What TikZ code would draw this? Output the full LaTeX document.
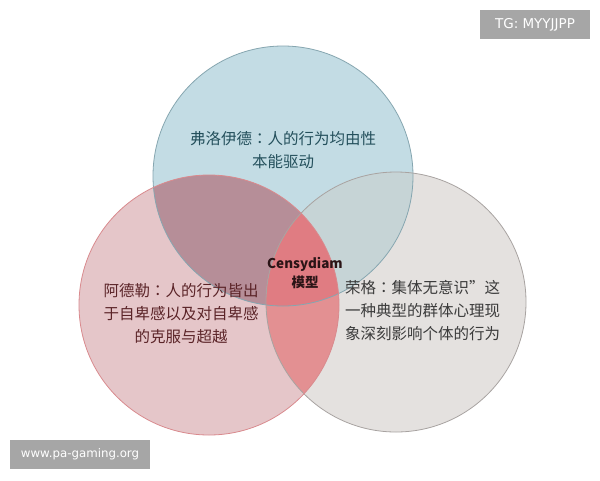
\documentclass[tikz,border=0pt]{standalone}
\usepackage{fontspec}
\setmainfont{Noto Sans CJK SC}
\newfontfamily\cjk{Noto Sans CJK SC}
\newfontfamily\cjktc{Noto Sans CJK TC}
\newfontfamily\wmfont{DejaVu Sans}
\usetikzlibrary{positioning}
\definecolor{fblue}{HTML}{C3DCE4}
\definecolor{fline}{HTML}{86A6B0}
\definecolor{apink}{HTML}{E5C6C9}
\definecolor{aline}{HTML}{D98A8E}
\definecolor{jgrey}{HTML}{E4E1DF}
\definecolor{jline}{HTML}{A8A3A1}
\definecolor{fa}{HTML}{B68E98}
\definecolor{fj}{HTML}{C6D4D6}
\definecolor{aj}{HTML}{E39092}
\definecolor{faj}{HTML}{E07C82}
\definecolor{wmgrey}{HTML}{A6A6A6}
\newcommand{\colonc}{{\cjktc ：}}
\tikzset{
  lbl/.style={font=\cjk\fontsize{15.5}{23}\selectfont, align=center},
  wmbox/.style={fill=wmgrey, text=white, minimum height=29pt, inner sep=0pt}
}
\begin{document}
\begin{tikzpicture}[x=1pt,y=-1pt]
            \useasboundingbox (0,0) rectangle (600,480);
            \fill[white] (0,0) rectangle (600,480);
            \coordinate (F) at (283,176);
            \coordinate (A) at (209,305);
            \coordinate (J) at (396,302);
            \fill[fblue] (F) circle (130pt);
            \fill[apink] (A) circle (130pt);
            \fill[jgrey] (J) circle (130pt);
            \begin{scope}
                \clip (A) circle (130pt);
                \fill[aj] (J) circle (130pt);
            \end{scope}
            \begin{scope}
                \clip (F) circle (130pt);
                \fill[fa] (A) circle (130pt);
                \fill[fj] (J) circle (130pt);
                \clip (A) circle (130pt);
                \fill[faj] (J) circle (130pt);
            \end{scope}
            \draw[fline, line width=0.8pt] (F) circle (130pt);
            \draw[jline, line width=0.8pt] (J) circle (130pt);
            \draw[aline, line width=0.8pt] (A) circle (130pt);
            \node[lbl, text={rgb,255:red,36;green,80;blue,92}] (tF) at (283,150.5) {弗洛伊德\colonc 人的行为均由性\\本能驱动};
            \node[lbl, text={rgb,255:red,91;green,36;blue,40}] (tA) at (181,314) {阿德勒\colonc 人的行为皆出\\于自卑感以及对自卑感\\的克服与超越};
            \node[lbl, align=left, text={rgb,255:red,59;green,59;blue,59}] (tJ) at (422.5,311) {荣格\colonc 集体无意识”这\\一种典型的群体心理现\\象深刻影响个体的行为};
            \node[font=\cjk\bfseries\fontsize{13.5}{19}\selectfont, align=center, text={rgb,255:red,43;green,20;blue,22}] (tC) at (305,273) {Censydiam\\模型};
            \node[wmbox, minimum width=110pt, font=\wmfont\fontsize{13.5}{15}\selectfont] (tg) at (535,24.5) {TG: MYYJJPP};
            \node[wmbox, minimum width=140pt, font=\wmfont\fontsize{11.8}{14}\selectfont] (www) at (80,454.5) {www.pa-gaming.org};
        \end{tikzpicture}
\end{document}
